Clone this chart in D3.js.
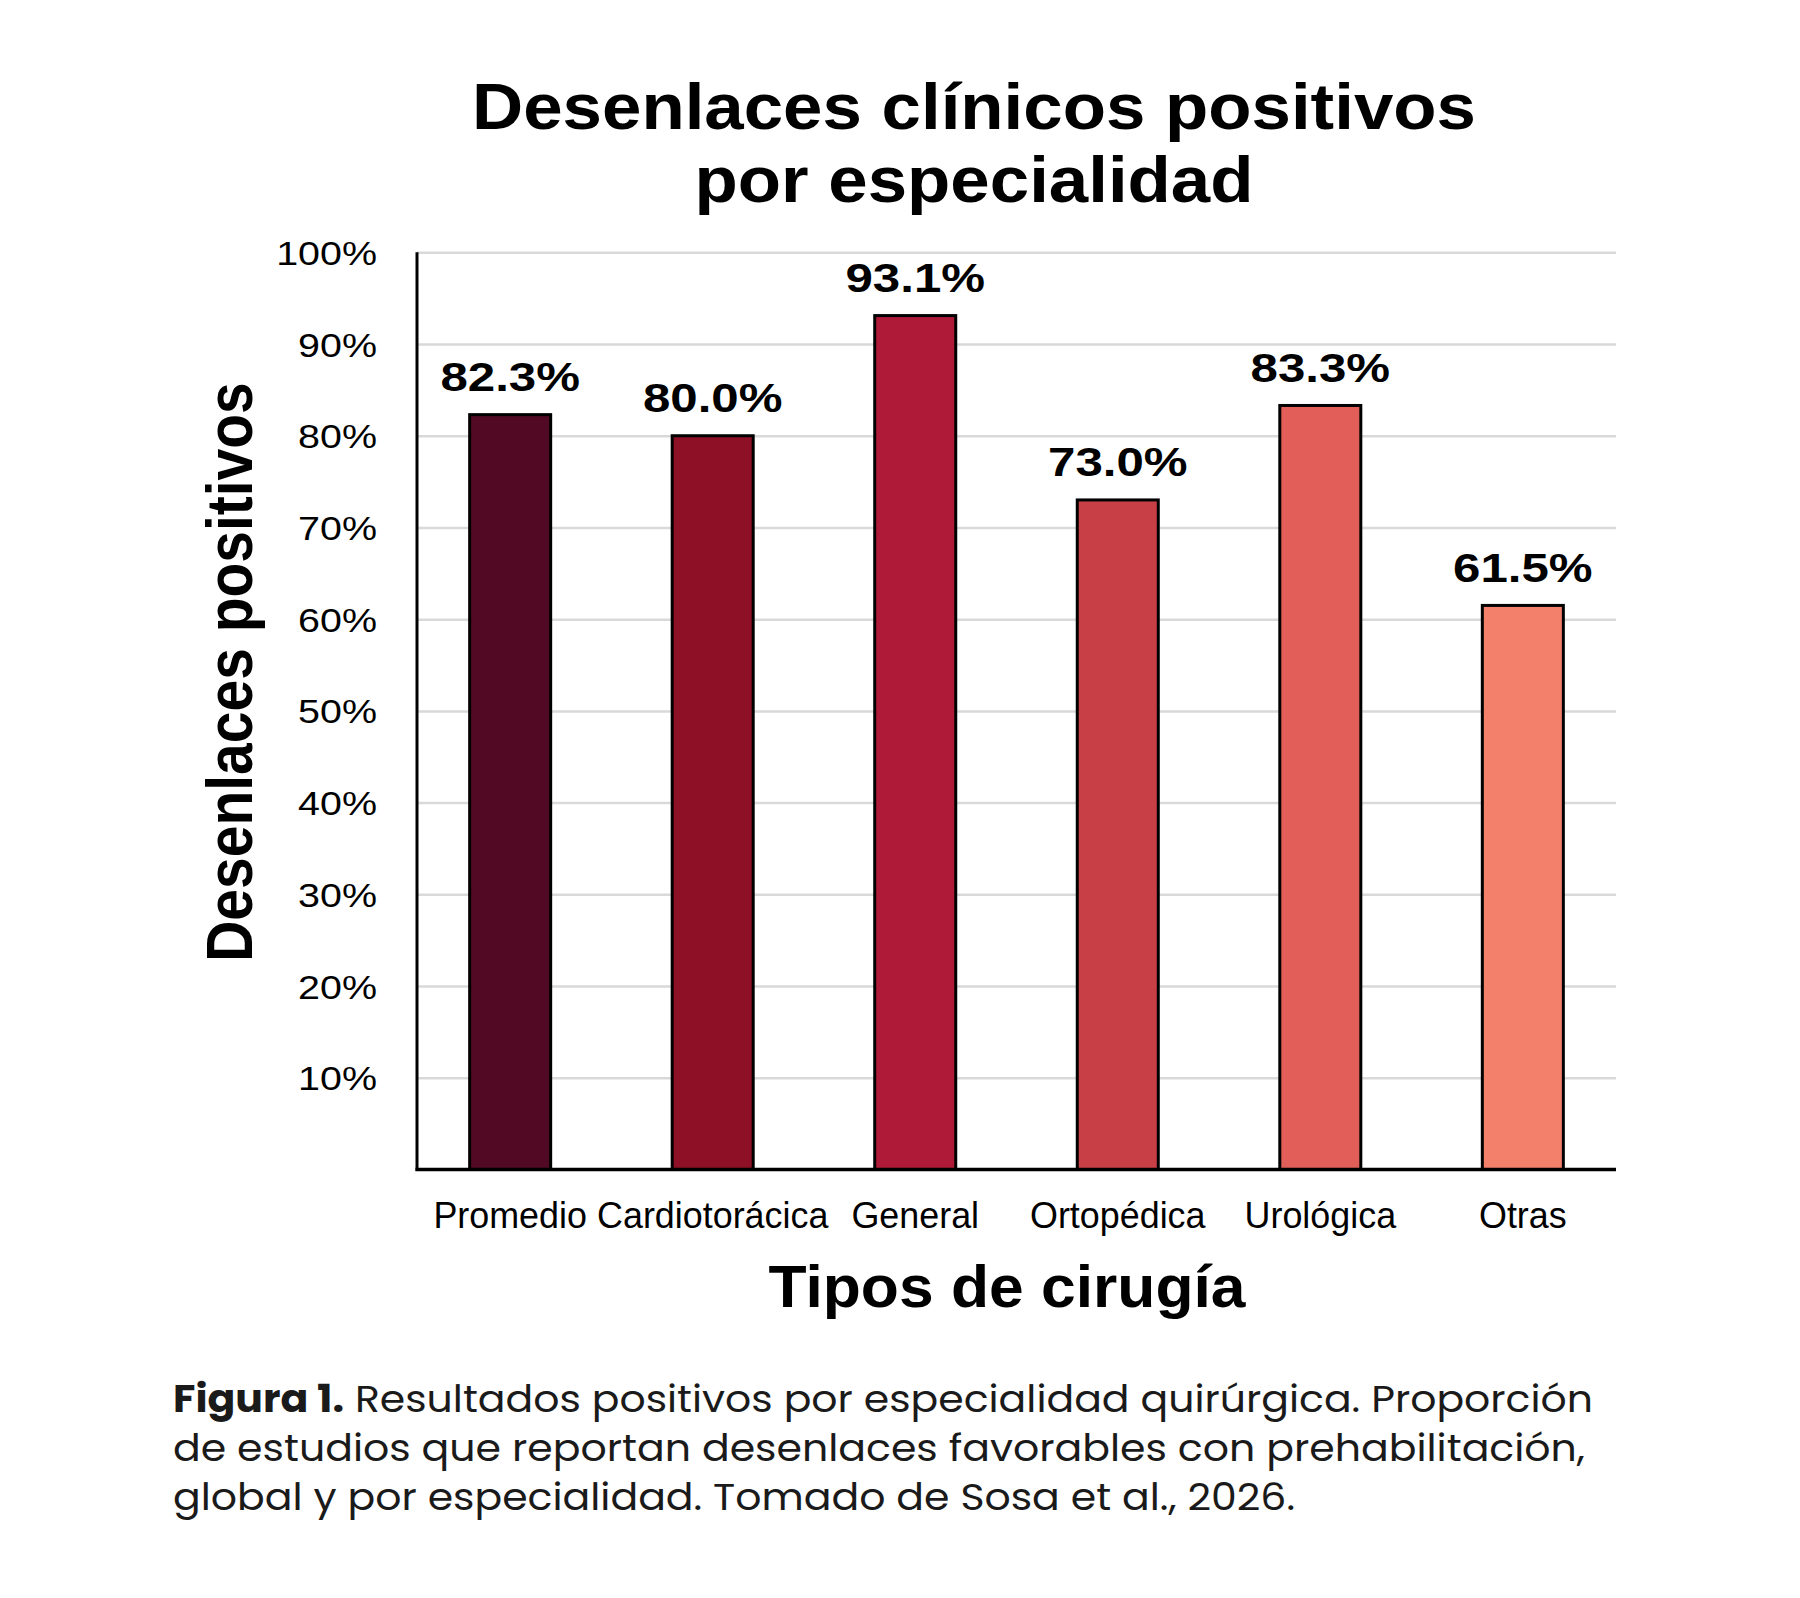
<!DOCTYPE html>
<html>
<head>
<meta charset="utf-8">
<script src="https://cdn.jsdelivr.net/npm/d3@7/dist/d3.min.js"></script>
<style>
  html, body { margin: 0; padding: 0; background: #ffffff; }
  svg { display: block; }
</style>
</head>
<body>
<svg id="chart" width="1800" height="1598"></svg>
<script>
// ---------- data ----------
const categories = ["Promedio", "Cardiotorácica", "General", "Ortopédica", "Urológica", "Otras"];
const values = [82.3, 80.0, 93.1, 73.0, 83.3, 61.5];
const valueLabels = ["82.3%", "80.0%", "93.1%", "73.0%", "83.3%", "61.5%"];
const barColors = ["#520a24", "#8d1026", "#ae1a37", "#c93f46", "#e15f58", "#f2806b"];
const yTickValues = [10, 20, 30, 40, 50, 60, 70, 80, 90, 100];
const yTickLabels = ["10%", "20%", "30%", "40%", "50%", "60%", "70%", "80%", "90%", "100%"];
const titleLines = ["Desenlaces clínicos positivos", "por especialidad"];
const yAxisTitle = "Desenlaces positivos";
const xAxisTitle = "Tipos de cirugía";
const captionBold = "Figura 1.";
const captionLines = [
  " Resultados positivos por especialidad quirúrgica. Proporción",
  "de estudios que reportan desenlaces favorables con prehabilitación,",
  "global y por especialidad. Tomado de Sosa et al., 2026."
];

// ---------- layout ----------
const svg = d3.select("#chart");
const FONT = "'Liberation Sans', Arial, Helvetica, sans-serif";
const axisX = 417, plotRight = 1616;
const yTop = 252.3, yBottom = 1169.5;

const x = d3.scaleBand().domain(categories).range([axisX, plotRight])
  .paddingInner(0.6).paddingOuter(0.26);
const y = d3.scaleLinear().domain([0, 100]).range([yBottom, yTop]);

// helper for horizontally scaled text
function sText(g, tx, ty, str, size, weight, anchor, sx) {
  return g.append("text")
    .attr("transform", `translate(${tx},${ty}) scale(${sx},1)`)
    .attr("text-anchor", anchor)
    .attr("font-family", FONT)
    .attr("font-size", size)
    .attr("font-weight", weight)
    .attr("fill", "#000")
    .text(str);
}

// title
sText(svg, 974, 128.5, titleLines[0], 65, 700, "middle", 1.09);
sText(svg, 974, 202, titleLines[1], 65, 700, "middle", 1.09);

// gridlines
const grid = svg.append("g").attr("transform", `translate(${axisX},0)`)
  .call(d3.axisLeft(y).tickValues(yTickValues).tickSize(-(plotRight - axisX)).tickFormat(""));
grid.select(".domain").remove();
grid.selectAll(".tick line").attr("stroke", "#d9d9d9").attr("stroke-width", 2.5);

// y axis labels
const yAxis = svg.append("g").attr("transform", `translate(${axisX},0)`)
  .call(d3.axisLeft(y).tickValues(yTickValues).tickSize(0)
    .tickFormat((d, i) => yTickLabels[i]));
yAxis.select(".domain").remove();
yAxis.selectAll(".tick text")
  .attr("font-family", FONT).attr("font-size", 34).attr("fill", "#000")
  .attr("text-anchor", "end")
  .attr("dy", null)
  .attr("y", 12)
  .attr("x", -40 / 1.16)
  .attr("transform", "scale(1.16,1)");

// bars
svg.append("g").selectAll("rect").data(values).join("rect")
  .attr("x", (d, i) => x(categories[i]))
  .attr("y", d => y(d))
  .attr("width", x.bandwidth())
  .attr("height", d => yBottom - y(d))
  .attr("fill", (d, i) => barColors[i])
  .attr("stroke", "#000")
  .attr("stroke-width", 3);

// value labels
const vl = svg.append("g");
values.forEach((v, i) => {
  sText(vl, x(categories[i]) + x.bandwidth() / 2, y(v) - 23.5, valueLabels[i], 41, 700, "middle", 1.2);
});

// y axis line
svg.append("line")
  .attr("x1", axisX).attr("x2", axisX)
  .attr("y1", y(100)).attr("y2", yBottom + 1.5)
  .attr("stroke", "#000").attr("stroke-width", 3);

// x axis
const xAxis = svg.append("g").attr("transform", `translate(0,${yBottom})`)
  .call(d3.axisBottom(x).tickSize(0).tickSizeOuter(0));
xAxis.select(".domain").attr("stroke", "#000").attr("stroke-width", 3.5)
  .attr("d", `M${axisX - 1.5},0H${plotRight}`);
xAxis.selectAll(".tick text")
  .attr("font-family", FONT).attr("font-size", 37).attr("fill", "#000")
  .attr("dy", null)
  .attr("y", 58.8)
  .attr("transform", "scale(0.97,1)")
  .attr("x", 0);
xAxis.selectAll(".tick").attr("transform", d => `translate(${x(d) + x.bandwidth() / 2},0)`);

// axis titles
sText(svg, 1007, 1306.5, xAxisTitle, 58.5, 700, "middle", 1.066);
svg.append("text")
  .attr("transform", `translate(251.5,672) scale(1.15,1) rotate(-90)`)
  .attr("text-anchor", "middle")
  .attr("font-family", FONT)
  .attr("font-size", 57)
  .attr("font-weight", 700)
  .attr("fill", "#000")
  .text(yAxisTitle);

// caption
const capX = 173;
const capBase = [1412, 1461, 1510];
const capWidths = [1420, 1412, 1122];
const CAPFONT = "Poppins, 'Open Sans', 'Noto Sans', sans-serif";
captionLines.forEach((line, i) => {
  const t = svg.append("text")
    .attr("x", capX).attr("y", capBase[i])
    .attr("font-family", CAPFONT)
    .attr("font-size", 38)
    .attr("fill", "#1a1a1a");
  if (i === 0) {
    t.append("tspan").attr("font-weight", 700).text(captionBold);
  }
  t.append("tspan").attr("font-weight", 400).text(line);
  t.attr("textLength", capWidths[i]).attr("lengthAdjust", "spacingAndGlyphs");
});
</script>
</body>
</html>
